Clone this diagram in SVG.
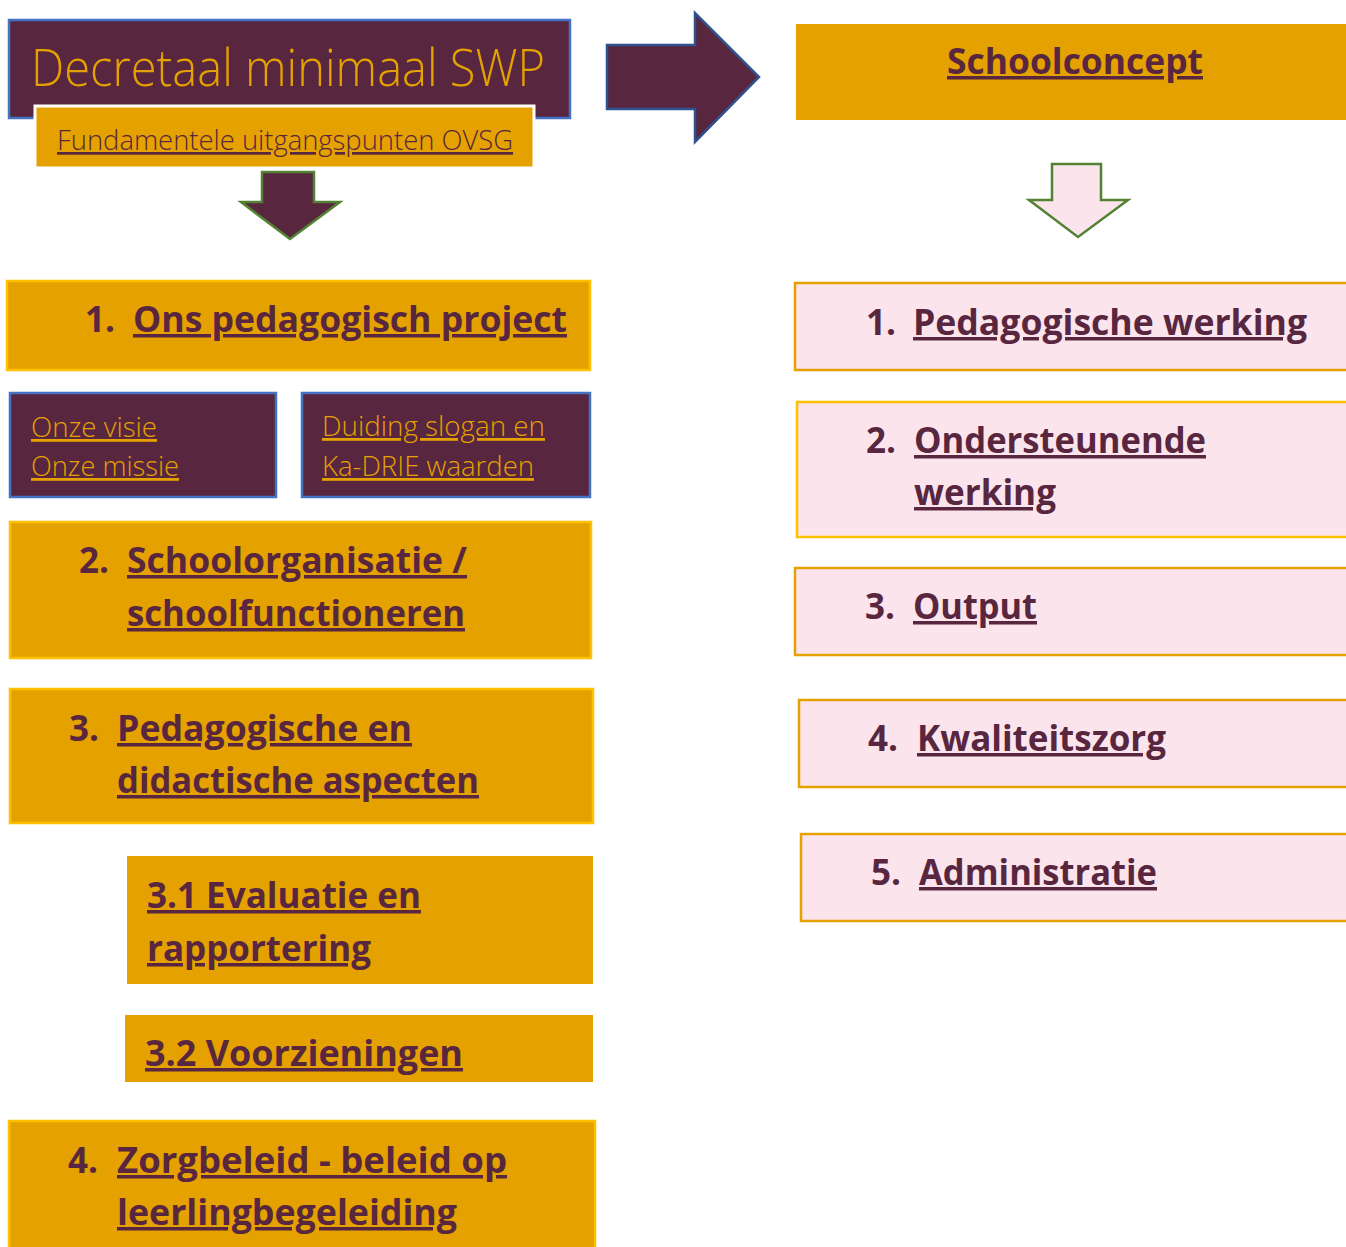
<svg xmlns="http://www.w3.org/2000/svg" width="1346" height="1247" viewBox="0 0 1346 1247">
<style>
.plum{fill:#58273F}
.gold{fill:#E5A100}
.pink{fill:#FCE4EC}
.bdY{stroke:#FFC000;stroke-width:2.5}
.bdG{stroke:#E5A100;stroke-width:2.5}
.bdB{stroke:#4472C4;stroke-width:2.5}
.t{font-family:"Open Sans","Noto Sans",sans-serif;text-decoration-skip-ink:none}
.b{font-weight:700;font-size:35px;fill:#58273F}
.bu{font-weight:700;font-size:35px;fill:#58273F;text-decoration:underline;text-decoration-thickness:3px}
.l{font-weight:300;fill:#E5A100}
</style>
<rect width="1346" height="1247" fill="#FFFFFF"/>
<g id="connectors">
<polygon points="262,172 314,172 314,202 340,202 290,239 241,202 262,202" class="plum" stroke="#548235" stroke-width="2.5"/>
<polygon points="607,45 695,45 695,13 759,77 695,142 695,109 607,109" class="plum" stroke="#2F528F" stroke-width="2.5"/>
<polygon points="1052,164 1101,164 1101,200 1128,200 1078,237 1029,200 1052,200" class="pink" stroke="#548235" stroke-width="2.5"/>
</g>
<g id="title">
<rect x="9" y="20" width="561" height="98" class="plum bdB"/>
<text x="31" y="86" class="t l" font-size="52" textLength="514" lengthAdjust="spacingAndGlyphs">Decretaal minimaal SWP</text>
</g>
<g id="fundamentele">
<rect x="35" y="106" width="499" height="62" class="gold" stroke="#FFFFFF" stroke-width="3"/>
<text x="57" y="150" class="t" font-weight="300" font-size="27" fill="#58273F" text-decoration="underline" textLength="456" lengthAdjust="spacingAndGlyphs">Fundamentele uitgangspunten OVSG</text>
</g>
<g id="schoolconcept">
<rect x="796" y="24" width="552" height="96" class="gold"/>
<text x="947" y="74" class="t bu" textLength="256" lengthAdjust="spacingAndGlyphs">Schoolconcept</text>
</g>
<g id="l1">
<rect x="7" y="281" width="583" height="89" class="gold bdY"/>
<text x="85" y="332" class="t b" font-size="30">1.</text>
<text x="133" y="332" class="t bu" textLength="434" lengthAdjust="spacingAndGlyphs">Ons pedagogisch project</text>
</g>
<g id="visie">
<rect x="10" y="393" width="266" height="104" class="plum bdB"/>
<text class="t l" font-size="28" text-decoration="underline"><tspan x="31" y="437" textLength="126" lengthAdjust="spacingAndGlyphs">Onze visie</tspan><tspan x="31" y="476" textLength="148" lengthAdjust="spacingAndGlyphs">Onze missie</tspan></text>
</g>
<g id="duiding">
<rect x="302" y="393" width="288" height="104" class="plum bdB"/>
<text class="t l" font-size="28" text-decoration="underline"><tspan x="322" y="436" textLength="223" lengthAdjust="spacingAndGlyphs">Duiding slogan en</tspan><tspan x="322" y="476" textLength="212" lengthAdjust="spacingAndGlyphs">Ka-DRIE waarden</tspan></text>
</g>
<g id="l2">
<rect x="10" y="522" width="581" height="136" class="gold bdY"/>
<text x="79" y="573" class="t b" font-size="30">2.</text>
<text class="t bu"><tspan x="127" y="573" textLength="340" lengthAdjust="spacingAndGlyphs">Schoolorganisatie /</tspan><tspan x="127" y="626" textLength="338" lengthAdjust="spacingAndGlyphs">schoolfunctioneren</tspan></text>
</g>
<g id="l3">
<rect x="10" y="689" width="583" height="134" class="gold bdY"/>
<text x="69" y="741" class="t b" font-size="30">3.</text>
<text class="t bu"><tspan x="117" y="741" textLength="295" lengthAdjust="spacingAndGlyphs">Pedagogische en</tspan><tspan x="117" y="793" textLength="362" lengthAdjust="spacingAndGlyphs">didactische aspecten</tspan></text>
</g>
<g id="l31">
<rect x="127" y="856" width="466" height="128" class="gold"/>
<text class="t bu"><tspan x="147" y="908" textLength="274" lengthAdjust="spacingAndGlyphs">3.1 Evaluatie en</tspan><tspan x="147" y="961" textLength="224" lengthAdjust="spacingAndGlyphs">rapportering</tspan></text>
</g>
<g id="l32">
<rect x="125" y="1015" width="468" height="67" class="gold"/>
<text x="145" y="1066" class="t bu" textLength="318" lengthAdjust="spacingAndGlyphs">3.2 Voorzieningen</text>
</g>
<g id="l4">
<rect x="9" y="1121" width="586" height="130" class="gold bdY"/>
<text x="68" y="1173" class="t b" font-size="30">4.</text>
<text class="t bu"><tspan x="117" y="1173" textLength="390" lengthAdjust="spacingAndGlyphs">Zorgbeleid - beleid op</tspan><tspan x="117" y="1225" textLength="340" lengthAdjust="spacingAndGlyphs">leerlingbegeleiding</tspan></text>
</g>
<g id="r1">
<rect x="795" y="283" width="555" height="87" class="pink bdG"/>
<text x="866" y="335" class="t b" font-size="30">1.</text>
<text x="913" y="335" class="t bu" textLength="394" lengthAdjust="spacingAndGlyphs">Pedagogische werking</text>
</g>
<g id="r2">
<rect x="797" y="402" width="553" height="135" class="pink bdY"/>
<text x="866" y="453" class="t b" font-size="30">2.</text>
<text class="t bu"><tspan x="914" y="453" textLength="292" lengthAdjust="spacingAndGlyphs">Ondersteunende</tspan><tspan x="914" y="505" textLength="142" lengthAdjust="spacingAndGlyphs">werking</tspan></text>
</g>
<g id="r3">
<rect x="795" y="568" width="555" height="87" class="pink bdG"/>
<text x="865" y="619" class="t b" font-size="30">3.</text>
<text x="913" y="619" class="t bu" textLength="124" lengthAdjust="spacingAndGlyphs">Output</text>
</g>
<g id="r4">
<rect x="799" y="700" width="551" height="87" class="pink bdG"/>
<text x="868" y="751" class="t b" font-size="30">4.</text>
<text x="917" y="751" class="t bu" textLength="249" lengthAdjust="spacingAndGlyphs">Kwaliteitszorg</text>
</g>
<g id="r5">
<rect x="801" y="834" width="549" height="87" class="pink bdG"/>
<text x="871" y="885" class="t b" font-size="30">5.</text>
<text x="919" y="885" class="t bu" textLength="238" lengthAdjust="spacingAndGlyphs">Administratie</text>
</g>
</svg>
